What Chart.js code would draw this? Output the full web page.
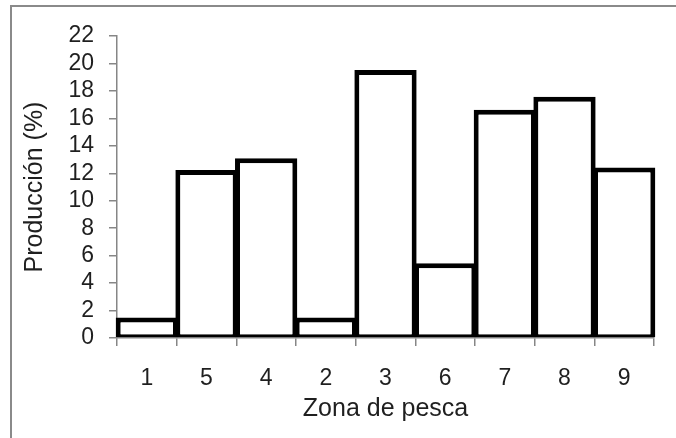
<!DOCTYPE html>
<html>
<head>
<meta charset="utf-8">
<script src="https://cdn.jsdelivr.net/npm/chart.js@4/dist/chart.umd.min.js"></script>
<style>
    html, body { margin: 0; padding: 0; background: #fff; overflow: hidden; }
    #wrap { position: relative; width: 676px; height: 438px; }
    #frame {
        position: absolute; left: 10px; top: 5px; width: 900px; height: 700px;
        border-top: 2px solid #8a8a8a; border-left: 2px solid #8a8a8a;
    }
    #myChart { position: absolute; left: 0; top: 0; }
</style>
</head>
<body>
<div id="wrap">
    <div id="frame"></div>
    <canvas id="myChart" width="676" height="438"></canvas>
</div>
<script>
// datos
var zonas = ['1', '5', '4', '2', '3', '6', '7', '8', '9'];
var produccion = [1.49, 12.24, 13.09, 1.49, 19.52, 5.44, 16.62, 17.58, 12.42];
var yMin = 0;
var yMax = 22;
var yStep = 2;

var axisColor = '#868686';
var textColor = '#1f1f1f';
var fontFamily = "'Liberation Sans', Arial, sans-serif";

var ctx = document.getElementById('myChart').getContext('2d');
var myChart = new Chart(ctx, {
    type: 'bar',
    data: {
        labels: zonas,
        datasets: [{
            label: 'Producción (%)',
            data: produccion,
            backgroundColor: '#ffffff',
            borderColor: '#000000',
            borderWidth: { top: 5, left: 5, right: 5, bottom: 3 },
            borderSkipped: false,
            barPercentage: 1.044, // los bordes de barras vecinas se solapan un poco
            categoryPercentage: 1,
            clip: false
        }]
    },
    options: {
        responsive: false,
        animation: false,
        layout: {
            padding: { left: 0, right: 22, top: 36, bottom: 0 }
        },
        plugins: {
            legend: { display: false },
            tooltip: { enabled: false }
        },
        scales: {
            x: {
                grid: {
                    drawOnChartArea: false,
                    drawTicks: true,
                    tickLength: 8,
                    color: axisColor,
                    lineWidth: 1.5
                },
                border: { color: axisColor, width: 1.5 },
                ticks: {
                    color: textColor,
                    padding: 19,
                    font: { family: fontFamily, size: 23 }
                },
                title: {
                    display: true,
                    text: 'Zona de pesca',
                    color: textColor,
                    padding: { top: 0, bottom: 14 },
                    font: { family: fontFamily, size: 25 }
                },
                afterFit: function(scale) { scale.height = 100; }
            },
            y: {
                min: yMin,
                max: yMax,
                grid: {
                    drawOnChartArea: false,
                    drawTicks: true,
                    tickLength: 8,
                    color: axisColor,
                    lineWidth: 1.5
                },
                border: { color: axisColor, width: 1.5 },
                ticks: {
                    stepSize: yStep,
                    autoSkip: false,
                    color: textColor,
                    padding: 15,
                    font: { family: fontFamily, size: 23 }
                },
                title: {
                    display: true,
                    text: 'Producción (%)',
                    color: textColor,
                    padding: { top: 20, bottom: 0 },
                    font: { family: fontFamily, size: 25 }
                },
                afterFit: function(scale) { scale.width = 117; }
            }
        }
    }
});
</script>
</body>
</html>
